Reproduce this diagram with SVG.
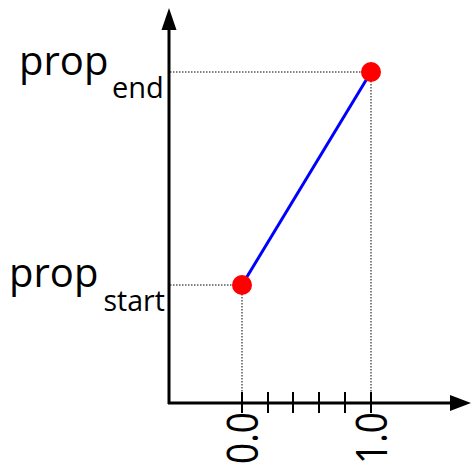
<svg xmlns="http://www.w3.org/2000/svg" width="473" height="470" viewBox="0 0 473 470">
<style>
.axis{stroke:#000;stroke-width:3;fill:none}
.tick{stroke:#000;stroke-width:2}
.dot{stroke:#000;stroke-width:1;stroke-dasharray:1.5,1.5;fill:none}
.lbl{font-family:"Open Sans","DejaVu Sans",sans-serif;fill:#000}
.pt{fill:#ff0000}
</style>
<g id="connectors">
<path class="dot" d="M170,72 H371 V403"/>
<path class="dot" d="M170,285 H242 V403"/>
<path class="axis" d="M169,404 V28"/>
<path d="M169,8 L161.5,30 L176.5,30 z" fill="#000"/>
<path class="axis" d="M168,403 H452"/>
<path d="M471,403 L450,395 L450,411 z" fill="#000"/>
<g class="tick">
<line x1="242" y1="392" x2="242" y2="413"/>
<line x1="268" y1="392" x2="268" y2="413"/>
<line x1="293" y1="392" x2="293" y2="413"/>
<line x1="319" y1="392" x2="319" y2="413"/>
<line x1="345" y1="392" x2="345" y2="413"/>
<line x1="371" y1="392" x2="371" y2="413"/>
</g>
<line x1="242" y1="285" x2="371" y2="72" stroke="#0000ff" stroke-width="3"/>
</g>
<g id="start-point"><circle class="pt" cx="242" cy="285" r="10"/></g>
<g id="end-point"><circle class="pt" cx="371" cy="72" r="10"/></g>
<g id="label-end">
<text class="lbl" x="19" y="75" font-size="40">prop</text>
<text class="lbl" x="112" y="98" font-size="29">end</text>
</g>
<g id="label-start">
<text class="lbl" x="9" y="287" font-size="40">prop</text>
<text class="lbl" x="103.5" y="311" font-size="28.5">start</text>
</g>
<g id="label-0">
<text class="lbl" font-size="44" text-anchor="end" textLength="52" lengthAdjust="spacingAndGlyphs" transform="translate(258,412) rotate(-90)">0.0</text>
</g>
<g id="label-1">
<text class="lbl" font-size="44" text-anchor="end" textLength="52" lengthAdjust="spacingAndGlyphs" transform="translate(387,412) rotate(-90)">1.0</text>
</g>
</svg>
